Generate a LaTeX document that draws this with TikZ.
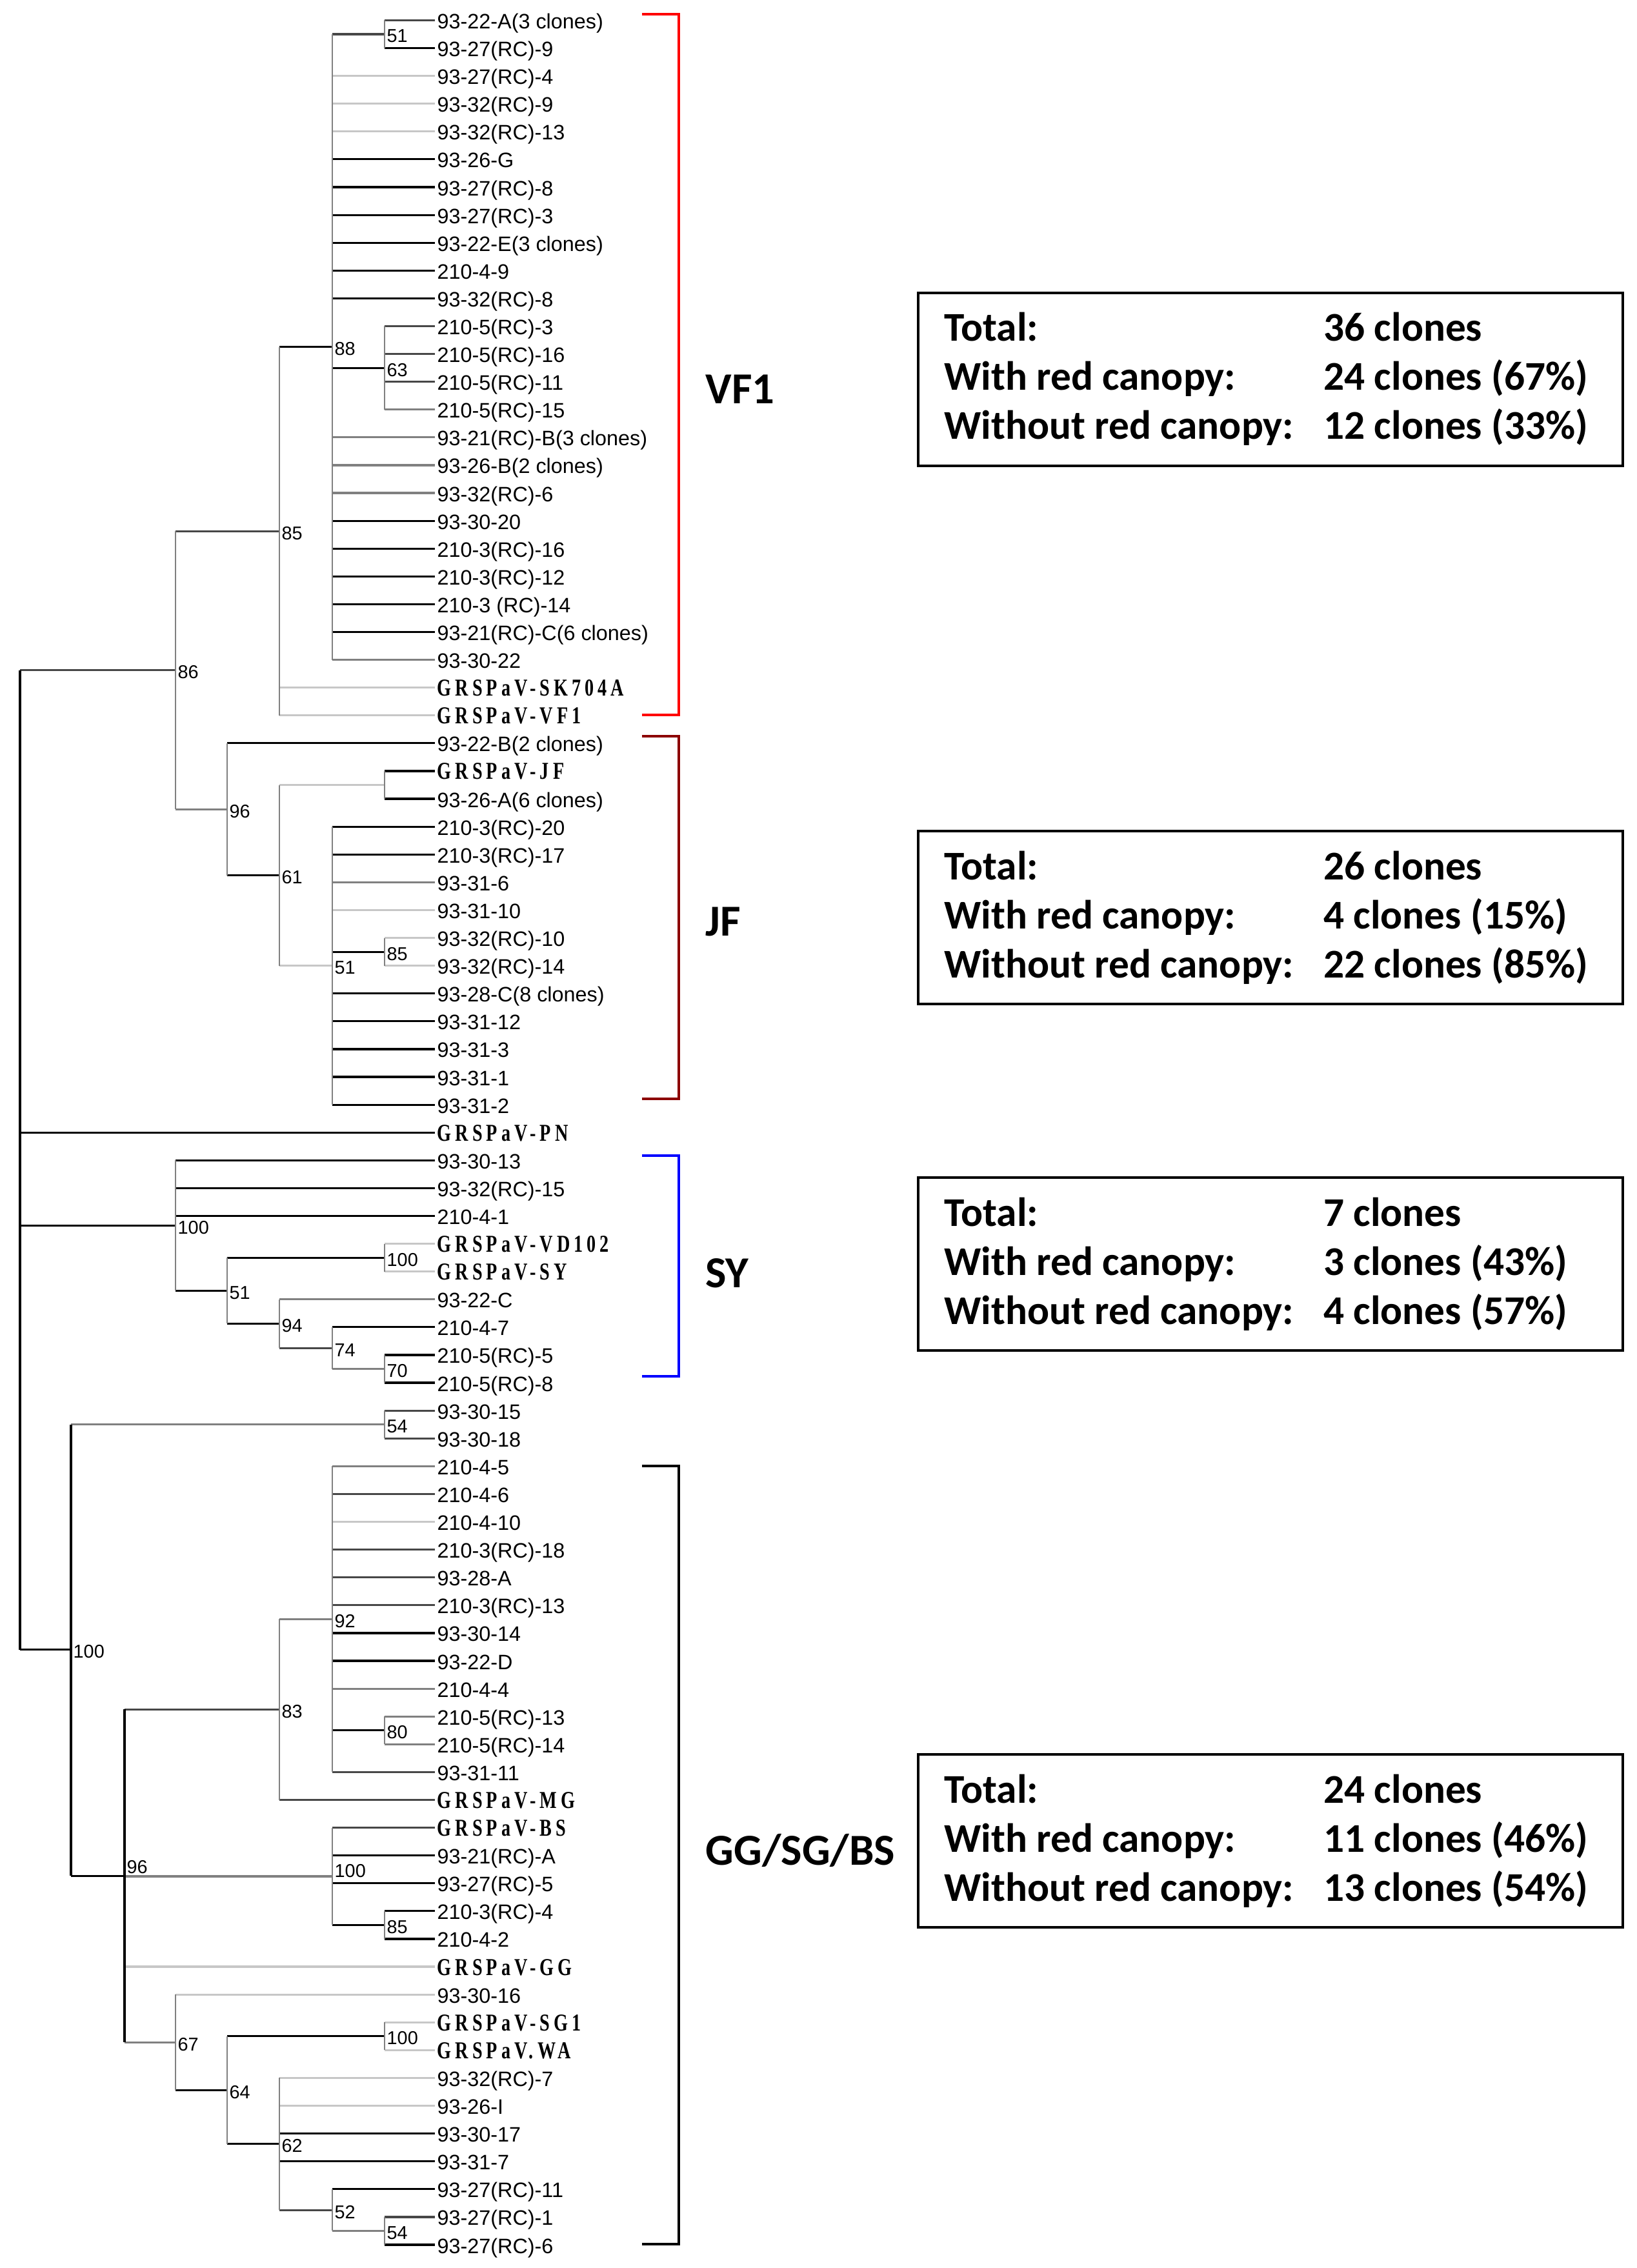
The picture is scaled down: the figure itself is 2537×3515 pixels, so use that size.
\documentclass[tikz,border=0pt]{standalone}
\usepackage{fontspec}
\setmainfont{Liberation Sans}
\newfontfamily\grsfont[FakeStretch=0.75,LetterSpace=16]{Liberation Serif}
\newfontfamily\boxfont{Carlito}
\newcommand{\grs}[1]{{\grsfont\bfseries\fontsize{10.7}{12}\selectfont #1}}
\definecolor{vfred}{RGB}{255,0,0}
\definecolor{jfred}{RGB}{140,0,0}
\definecolor{syblue}{RGB}{0,0,255}

\begin{document}
\begin{tikzpicture}[x=0.01cm,y=-0.01cm,
	brk/.style={black,line width=0.9pt},
	brd/.style={black!72,line width=0.9pt},
	brg/.style={black!50,line width=0.9pt},
	brl/.style={black!22,line width=0.9pt},
	vln/.style={black!50,line width=0.6pt},
	vlk/.style={black,line width=0.9pt},
	leaf/.style={anchor=base west,inner sep=0pt,yshift=-0.13cm,font=\fontsize{9.2}{11}\selectfont},
	bsv/.style={anchor=west,inner sep=0pt,xshift=0.03cm,yshift=-0.03cm,font=\fontsize{8.2}{10}\selectfont},
	grp/.style={anchor=base west,inner sep=0pt,font=\boxfont\bfseries\fontsize{19.5}{22}\selectfont},
	stat/.style={anchor=base west,inner sep=0pt,font=\boxfont\bfseries\fontsize{18}{21}\selectfont},
	statbox/.style={draw,line width=1.1pt,minimum width=10.92cm,minimum height=2.68cm,inner sep=0pt},
	clade/.style={line width=1.2pt}]
	\useasboundingbox (0,0) rectangle (2537,3515);

	% tree, one unit of y per leaf row
	\begin{scope}[shift={(0,-11.67)},y=-0.4307cm]
	\coordinate (root) at (31,41);
	\coordinate (bjf) at (596,28.5);
	\foreach \n/\x/\k/\b/\o in {a86/272/24.375/86/0pt, a85/433/19.375/85/0pt, a88/515/12.75/88/0pt,
		a51/596/1.5/51/0pt, a63/596/13.5/63/0pt,
		b96/352/29.375/96/0pt, b61/433/31.75/61/0pt, b51/515/35/51/0pt, b85/596/34.5/85/0pt,
		c100/272/44.34/100/0pt, c51/352/46.69/51/0pt, cvd/596/45.5/100/0pt, c94/433/47.875/94/0pt,
		c74/515/48.75/74/0pt, c70/596/49.5/70/0pt,
		d100/110/59.6/100/0pt, d54/596/51.5/54/0pt, d96/193/67.73/96/0.17cm, d83/433/61.75/83/0pt,
		d92/515/58.5/92/0pt, d80/596/62.5/80/0pt, e100/515/67.75/100/0.11cm, e85/596/69.5/85/0pt,
		f67/272/73.72/67/0pt, f64/352/75.44/64/0pt, f100/596/73.5/100/0pt, f62/433/77.375/62/0pt,
		f52/515/79.75/52/0pt, f54/596/80.5/54/0pt}
	{
		\coordinate (\n) at (\x,\k);
		\node[bsv,yshift=\o] (\n-b) at (\n) {\b};
	}

	% leaves
	\foreach \i/\p/\s/\t in {1/a51/brd/{93-22-A(3 clones)}, 2/a51/brk/{93-27(RC)-9}, 3/a88/brl/{93-27(RC)-4},
		4/a88/brl/{93-32(RC)-9}, 5/a88/brl/{93-32(RC)-13}, 6/a88/brk/{93-26-G}, 7/a88/brk/{93-27(RC)-8},
		8/a88/brk/{93-27(RC)-3}, 9/a88/brk/{93-22-E(3 clones)}, 10/a88/brk/{210-4-9}, 11/a88/brk/{93-32(RC)-8},
		12/a63/brd/{210-5(RC)-3}, 13/a63/brd/{210-5(RC)-16}, 14/a63/brd/{210-5(RC)-11}, 15/a63/brg/{210-5(RC)-15},
		16/a88/brg/{93-21(RC)-B(3 clones)}, 17/a88/brg/{93-26-B(2 clones)}, 18/a88/brg/{93-32(RC)-6},
		19/a88/brk/{93-30-20}, 20/a88/brk/{210-3(RC)-16}, 21/a88/brk/{210-3(RC)-12}, 22/a88/brk/{210-3 (RC)-14},
		23/a88/brk/{93-21(RC)-C(6 clones)}, 24/a88/brg/{93-30-22},
		25/a85/brl/{\grs{GRSPaV-SK704A}}, 26/a85/brl/{\grs{GRSPaV-VF1}},
		27/b96/brk/{93-22-B(2 clones)}, 28/bjf/brk/{\grs{GRSPaV-JF}}, 29/bjf/brk/{93-26-A(6 clones)},
		30/b51/brk/{210-3(RC)-20}, 31/b51/brk/{210-3(RC)-17}, 32/b51/brg/{93-31-6}, 33/b51/brl/{93-31-10},
		34/b85/brl/{93-32(RC)-10}, 35/b85/brl/{93-32(RC)-14}, 36/b51/brk/{93-28-C(8 clones)},
		37/b51/brk/{93-31-12}, 38/b51/brk/{93-31-3}, 39/b51/brk/{93-31-1}, 40/b51/brk/{93-31-2},
		41/root/brk/{\grs{GRSPaV-PN}},
		42/c100/brk/{93-30-13}, 43/c100/brk/{93-32(RC)-15}, 44/c100/brk/{210-4-1},
		45/cvd/brl/{\grs{GRSPaV-VD102}}, 46/cvd/brl/{\grs{GRSPaV-SY}}, 47/c94/brg/{93-22-C},
		48/c74/brk/{210-4-7}, 49/c70/brk/{210-5(RC)-5}, 50/c70/brk/{210-5(RC)-8},
		51/d54/brd/{93-30-15}, 52/d54/brd/{93-30-18},
		53/d92/brg/{210-4-5}, 54/d92/brd/{210-4-6}, 55/d92/brl/{210-4-10}, 56/d92/brd/{210-3(RC)-18},
		57/d92/brd/{93-28-A}, 58/d92/brd/{210-3(RC)-13}, 59/d92/brk/{93-30-14}, 60/d92/brk/{93-22-D},
		61/d92/brg/{210-4-4}, 62/d80/brg/{210-5(RC)-13}, 63/d80/brg/{210-5(RC)-14}, 64/d92/brd/{93-31-11},
		65/d83/brd/{\grs{GRSPaV-MG}},
		66/e100/brd/{\grs{GRSPaV-BS}}, 67/e100/brk/{93-21(RC)-A}, 68/e100/brk/{93-27(RC)-5},
		69/e85/brk/{210-3(RC)-4}, 70/e85/brk/{210-4-2},
		71/d96/brl/{\grs{GRSPaV-GG}}, 72/f67/brl/{93-30-16},
		73/f100/brl/{\grs{GRSPaV-SG1}}, 74/f100/brl/{\grs{GRSPaV.WA}},
		75/f62/brl/{93-32(RC)-7}, 76/f62/brl/{93-26-I}, 77/f62/brk/{93-30-17}, 78/f62/brk/{93-31-7},
		79/f52/brk/{93-27(RC)-11}, 80/f54/brd/{93-27(RC)-1}, 81/f54/brk/{93-27(RC)-6}}
	{
		\coordinate (t\i) at (674,\i);
		\node[leaf] (l\i) at (677,\i) {\t};
		\draw[\s] (\p |- t\i) -- (t\i);
	}

	% inner branches
	\foreach \p/\c/\s in {root/a86/brd, a86/a85/brd, a85/a88/brk, a88/a51/brd, a88/a63/brk,
		a86/b96/brg, b96/b61/brk, b61/bjf/brl, b61/b51/brl, b51/b85/brk,
		root/c100/brk, c100/c51/brk, c51/cvd/brk, c51/c94/brk, c94/c74/brd, c74/c70/brg,
		root/d100/brk, d100/d54/brg, d100/d96/brk, d96/d83/brd, d83/d92/brg, d92/d80/brk,
		d96/e100/brg, e100/e85/brk, d96/f67/brg, f67/f64/brk, f64/f100/brk, f64/f62/brk,
		f62/f52/brd, f52/f54/brg}
		\draw[\s] (\p |- \c) -- (\c);

	% verticals
	\foreach \n/\a/\b/\s in {root/a86/d100/vlk, a86/a85/b96/vln, a85/a88/t26/vln, a88/a51/t24/vln,
		a51/t1/t2/vln, a63/t12/t15/vln, b96/t27/b61/vln, b61/bjf/b51/vln, bjf/t28/t29/vln,
		b51/t30/t40/vln, b85/t34/t35/vln, c100/t42/c51/vln, c51/cvd/c94/vln, cvd/t45/t46/vln,
		c94/t47/c74/vln, c74/t48/c70/vln, c70/t49/t50/vln, d100/d54/d96/vlk, d54/t51/t52/vln,
		d96/d83/f67/vlk, d83/d92/t65/vln, d92/t53/t64/vln, d80/t62/t63/vln, e100/t66/e85/vln,
		e85/t69/t70/vln, f67/t72/f64/vln, f64/f100/f62/vln, f100/t73/t74/vln, f62/t75/f52/vln,
		f52/t79/f54/vln, f54/t80/t81/vln}
		\draw[\s] (\n |- \a) -- (\n |- \b);
	\end{scope}

	% clade brackets
	\draw[clade,vfred] (995,22) -- (1052,22) -- (1052,1108) -- (995,1108);
	\draw[clade,jfred] (995,1141) -- (1052,1141) -- (1052,1703) -- (995,1703);
	\draw[clade,syblue] (995,1791) -- (1052,1791) -- (1052,2133) -- (995,2133);
	\draw[clade,black] (995,2272) -- (1052,2272) -- (1052,3478) -- (995,3478);

	\node[grp] (vf1) at (1093,625) {VF1};
	\node[grp] (jf) at (1093,1450) {JF};
	\node[grp] (sy) at (1093,1995) {SY};
	\node[grp] (gg) at (1093,2890) {GG/SG/BS};

	% clone counts
	\foreach \g/\yc/\na/\nb/\nc in {vf1/588/{36 clones}/{24 clones (67\%)}/{12 clones (33\%)},
		jf/1422/{26 clones}/{4 clones (15\%)}/{22 clones (85\%)},
		sy/1959/{7 clones}/{3 clones (43\%)}/{4 clones (57\%)},
		gg/2853/{24 clones}/{11 clones (46\%)}/{13 clones (54\%)}}
	{
		\node[statbox] (\g-box) at (1969,\yc) {};
		\node[stat] (\g-tot) at ([shift={(42,77)}]\g-box.north west) {Total:};
		\node[stat] (\g-red) at ([shift={(42,153)}]\g-box.north west) {With red canopy:};
		\node[stat] (\g-non) at ([shift={(42,229)}]\g-box.north west) {Without red canopy:};
		\node[stat] (\g-ntot) at ([shift={(630,77)}]\g-box.north west) {\na};
		\node[stat] (\g-nred) at ([shift={(630,153)}]\g-box.north west) {\nb};
		\node[stat] (\g-nnon) at ([shift={(630,229)}]\g-box.north west) {\nc};
	}
\end{tikzpicture}
\end{document}
